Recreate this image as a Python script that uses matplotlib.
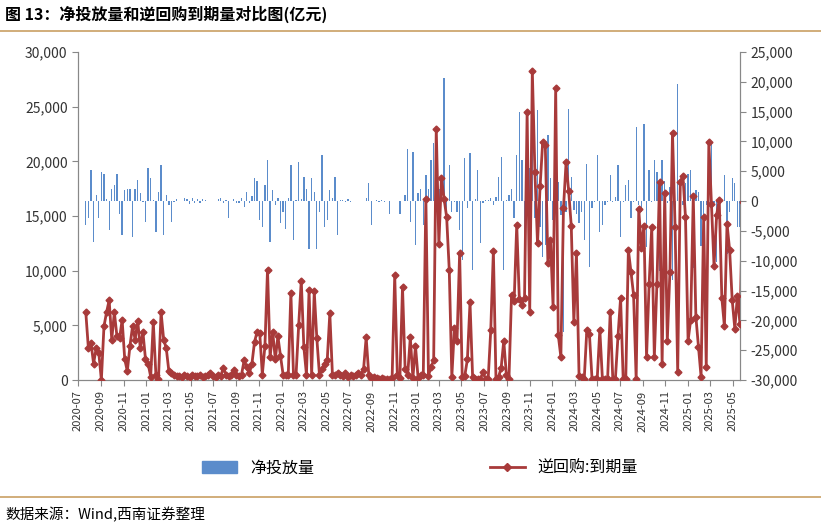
import numpy as np
import pandas as pd
import matplotlib
matplotlib.use("Agg")
import matplotlib.pyplot as plt
import matplotlib.dates as mdates
from matplotlib.ticker import FuncFormatter, MultipleLocator
from matplotlib.lines import Line2D
from matplotlib.patches import Patch

plt.rcParams['font.family'] = ['Noto Sans CJK SC', 'DejaVu Sans']

# reverse repo maturities (thousand 亿元 -> scaled below)
repo_1 = [6.2,2.9,3.4,1.5,2.9,2.5,0,4.9,6.2,7.3,3.7,6.2,4.0,3.8,5.5,1.9,0.8,3.1,4.9,3.7,5.4,2.9,4.4,1.9,1.5,0.3,5.3,0.5,0.1,6.2,3.7,2.9,0.8]
repo_2 = [0.6,0.5,0.4,0.4,0.3,0.5,0.4,0.3,0.5,0.4,0.4,0.5,0.3,0.4,0.5,0.6,0.4,0.3,0.5,0.4,1.1,0.5,0.4,0.5,0.9,0.5,0.4,0.5,1.8,1.2,0.6]
repo_3 = [1.5,3.5,4.4,4.3,0.5,3.1,10.1,2.1,4.4,1.9,4.0,2.2,0.5,0.5,0.5,8.0,0.5,0.5,5.0,9.1,3.0,0.5,8.2]
repo_4 = [0.5,8.1,3.8,0.5,1.0,1.5,1.8,6.1,0.5,0.5,0.6,0.5,0.4,0.6,0.3,0.5,0.4,0.5,0.6,0.5,1.0,3.9,0.5,0.2,0.3,0.2,0.1,0.2,0.1,0.1,0.1,0.2,9.6,0.5,0.2,8.5,1.0,0.5,3.9,0.2,3.1,0.2,0.5,0.5,16.6]
repo_5 = [0.4,1.2,1.8,23.0,12.4,18.5,16.6,14.9,10.1,0.3,4.8,3.6,11.6,0.3,0.4,1.9,7.1,0.3,0.1,0.1,0.1,0.7,0.1,0.1,4.6,11.8,0.1,0.3,1.1,3.6,0.5,0.1,7.8,7.2,14.2,7.4,6.9,7.5,24.5,6.2,28.3,19.0]
repo_6 = [12.5,17.7,21.8,21.5,10.7,12.8,6.7,26.7,4.1,2.1,15.7,19.9,17.3,14.1,5.3,11.6,0.4,0.3,0.1,4.6,4.2,0.1,0.1,0.1,4.6,0.1,0.1,0.1,6.2,0.1,0.1,4.0,7.5,0.1,0.1,11.9,9.9,7.8,0.1,15.6,12.1,14.1,2.1,8.8]
repo_7 = [14.0,2.1,8.8,18.1,1.5,17.1,3.6,9.9,22.6,14.0,0.7,18.1,18.7,14.9,3.6,5.5,16.8,5.8,3.0,0.3,14.9,1.2,21.8,16.1,10.4,15.1,16.5,7.5,4.9,14.3,11.9,7.3,4.7,7.7,5.1,16.3]

nan = np.nan
net_1 = [-4,-2.9,5.2,-6.8,1,-2.9,4.9,4.6,0.4,-4.9,2.1,2.7,4.6,-2.1,-5.7,1.8,2.1,2.1,-6,2.1,3.5,1.3,-0.1,-3.5,5.5,3.8,0.2,-5.1,1.6,6,-5.7,1,-0.7]
net_2 = [-3.5,-0.2,0.3,0,0,0.5,0.3,-0.5,0.6,-0.4,0.3,-0.3,0.4,0.2,nan,nan,nan,nan,0.4,0.6,-0.3,0.2,-2.9,nan,0.4,-0.4,-0.3,0.5,-1,1.5,-0.4]
net_3 = [0.8,3.8,3.3,-3.2,-4.3,2.7,6.9,-6.8,1.8,-0.6,0.5,-3.7,-1.8,-4.6,0.5,6,-6.5,0.2,6.6,0.3,4.1,2,-8]
net_4 = [3.8,1.5,-8,-1.8,7.7,-4.3,-3.2,1.9,0.5,4.1,-5.7,0.2,0.1,-0.2,0.3,-0.1,nan,nan,nan,nan,nan,0.5,3.0,-4.0,nan,0.2,-0.1,0.1,-0.1,nan,-2.1,nan,nan,nan,-2.1,nan,1,8.8,-3.5,8.3,-7.4,1.3,2.1,-4,4.4]
net_5 = [2.1,6.9,9.7,0.5,2.1,2.1,20.6,-3.7,6,-1.8,-0.1,-1.8,-4.9,-9.9,7.2,-1.2,8,-11.6,0.3,5.2,-7.1,-0.3,0.2,0.2,0.6,-0.6,0.7,4.1,7.4,-11.6,0.2,1.0,2.1,-2.9,7.7,15,6.9,-6.8,1.8,5.5,11.4,-2.9]
net_6 = [15.3,-4.3,-9.3,-7.4,11,3.9,-3.2,9.9,3.2,-2.4,-22,-1.8,15.5,4.1,-1.5,-2.1,-3.7,-1.8,-6.5,6.3,-11,-1.2,-0.2,7.7,-5.1,-4,-0.7,-0.1,4.4,-0.1,0.7,6,-6,-0.1,2.7,3.5,-2.9,-0.1,12.5,-0.7,-1.8,13,-7.7,5.2]
net_7 = [-0.2,6.9,4.9,-11.8,6.9,3.3,-0.4,2.4,-13.2,-2.6,19.7,-4,-0.7,3,4.6,5.2,-11.3,1.8,1.6,-7.6,-3.5,-0.7,5.8,9.9,-0.4,-10.2,-2.9,-0.1,4.4,-8.8,-1.8,3.8,3,-4.4,-4.4,7.7]

repo = np.array(repo_1 + repo_2 + repo_3 + repo_4 + repo_5 + repo_6 + repo_7) * 1000
net = np.array(net_1 + net_2 + net_3 + net_4 + net_5 + net_6 + net_7) * 1000
n = min(len(repo), len(net))
repo, net = repo[:n], net[:n]
dates = pd.date_range("2020-07-22", periods=n, freq="7D")

fig = plt.figure(figsize=(8.21, 5.28), dpi=100)
ax = fig.add_axes([78/821, 1-380/528, (740-78)/821, (380-52)/528])
ax2 = ax.twinx()

blue = '#5B8CCB'
red = '#A83A3A'
ax2.bar(dates, net, width=3.5, color=blue, zorder=1)
ax.plot(dates, repo, color=red, lw=2, marker='D', ms=3.5, zorder=3)
ax.set_zorder(ax2.get_zorder() + 1)
ax.patch.set_visible(False)

ax.set_ylim(0, 30000)
ax2.set_ylim(-30000, 25000)
ax.yaxis.set_major_locator(MultipleLocator(5000))
ax2.yaxis.set_major_locator(MultipleLocator(5000))
fmt = FuncFormatter(lambda v, p: f"{int(v):,}")
ax.yaxis.set_major_formatter(fmt)
ax2.yaxis.set_major_formatter(fmt)
ax.set_xlim(pd.Timestamp("2020-07-01"), pd.Timestamp("2025-05-21"))
ax.xaxis.set_major_locator(mdates.MonthLocator(bymonth=[1, 3, 5, 7, 9, 11]))
ax.xaxis.set_major_formatter(mdates.DateFormatter("%Y-%m"))
for a in (ax, ax2):
    a.tick_params(labelsize=10, colors='#333333', length=4, color='#888888')
    for s in a.spines.values():
        s.set_color('#888888')
    a.spines['top'].set_visible(False)
ax.tick_params(axis='x', labelsize=8, rotation=90)

fig.text(5/821, 1-14/528, "图 13：净投放量和逆回购到期量对比图(亿元)", fontsize=11.5,
         fontweight='bold', va='center', ha='left')
fig.add_artist(Line2D([0, 1], [1-31/528, 1-31/528], color='#C9A063', lw=1.2))
fig.add_artist(Line2D([0, 1], [1-497/528, 1-497/528], color='#C9A063', lw=1.2))
fig.text(5/821, 1-515/528, "数据来源：Wind,西南证券整理", fontsize=10.5, style='italic',
         va='center', ha='left')

handles = [Patch(color=blue), Line2D([], [], color=red, lw=2, marker='D', ms=4)]
fig.legend(handles, ["净投放量", "逆回购:到期量"], loc='center', bbox_to_anchor=(420/821, 1-468/528),
           ncol=2, frameon=False, fontsize=11.5, columnspacing=11, handlelength=2.2)

fig.savefig("out.png", dpi=100)
